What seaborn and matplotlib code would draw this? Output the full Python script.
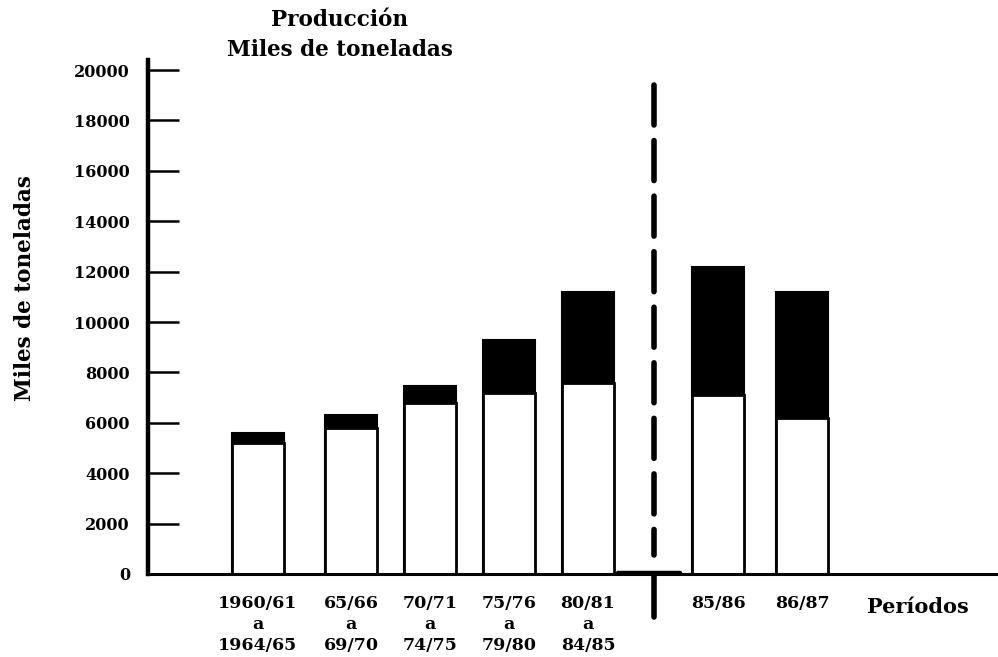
import matplotlib
matplotlib.use("Agg")
import matplotlib.pyplot as plt
import seaborn as sns
import pandas as pd

# ---- data ----
periods = ["1960/61\na\n1964/65", "65/66\na\n69/70", "70/71\na\n74/75",
           "75/76\na\n79/80", "80/81\na\n84/85", "85/86", "86/87"]
lower = [5200, 5800, 6800, 7200, 7600, 7100, 6200]      # white part
upper = [400, 500, 650, 2100, 3600, 5100, 5000]         # black part

# ---- layout ----
xpos = [258, 351, 430, 509, 588, 718, 802]
bar_w = 52
sep_x = 654

sns.set_theme(style="white")
plt.rcParams['font.family'] = ['DejaVu Serif']
plt.rcParams['font.weight'] = 'bold'
plt.rcParams['text.color'] = 'black'
plt.rcParams['axes.labelcolor'] = 'black'
plt.rcParams['xtick.color'] = 'black'
plt.rcParams['ytick.color'] = 'black'

totals = [a + b for a, b in zip(lower, upper)]
df = pd.DataFrame({"x": xpos, "low": lower, "total": totals, "label": periods})

fig = plt.figure(figsize=(9.98, 6.57), dpi=100)
ax = fig.add_axes([148/998, (657-574)/657, 850/998, (574-60)/657])

w = bar_w / min(b - a for a, b in zip(xpos[:-1], xpos[1:]))
sns.barplot(data=df, x="x", y="total", native_scale=True, color="black",
            saturation=1, width=w, edgecolor="black", linewidth=1.5, ax=ax)
sns.barplot(data=df, x="x", y="low", native_scale=True, color="white",
            saturation=1, width=w, edgecolor="black", linewidth=2, ax=ax)

ax.set_xlim(148, 998)
ax.set_ylim(0, 20400)
ax.set_yticks(range(0, 20001, 2000))
ax.set_yticklabels([str(v) for v in range(0, 20001, 2000)], fontsize=11.5,
                   fontweight='bold', color='black')
ax.tick_params(axis='y', direction='in', length=22, width=1.8, pad=13,
               color='black', left=True)
ax.set_xticks(xpos)
ax.set_xticklabels(periods, fontsize=12.5, fontweight='bold', linespacing=1.3,
                   va='top', ha='center', color='black')
ax.tick_params(axis='x', length=0, pad=15)
ax.set_xlabel("")
ax.set_ylabel("Miles de toneladas", fontsize=15.5, fontweight='bold',
              color='black')
ax.yaxis.set_label_coords(-0.132, (574-288)/514)

for s in ['top', 'right']:
    ax.spines[s].set_visible(False)
ax.spines['left'].set_linewidth(3.2)
ax.spines['bottom'].set_linewidth(2.2)
ax.spines['left'].set_color('black')
ax.spines['bottom'].set_color('black')

# separator line (drawn top-down so the first dash starts at the top)
ax.plot([sep_x, sep_x], [19400, 750], color='black', lw=4,
        dashes=(7.2, 2.8), dash_capstyle='round')
ax.plot([sep_x, sep_x], [0, -1700], color='black', lw=4, clip_on=False)
ax.plot([618, 680], [20, 20], color='black', lw=3.2, clip_on=False)

ax.text(918, -1300, "Períodos", fontsize=15, fontweight='bold',
        ha='center', va='center', clip_on=False, color='black')
fig.text(340/998, 1 - 35/657, "Producción\nMiles de toneladas", fontsize=15.5,
         fontweight='bold', ha='center', va='center', linespacing=1.5,
         color='black')

fig.savefig("out.png", dpi=100, facecolor='white')
